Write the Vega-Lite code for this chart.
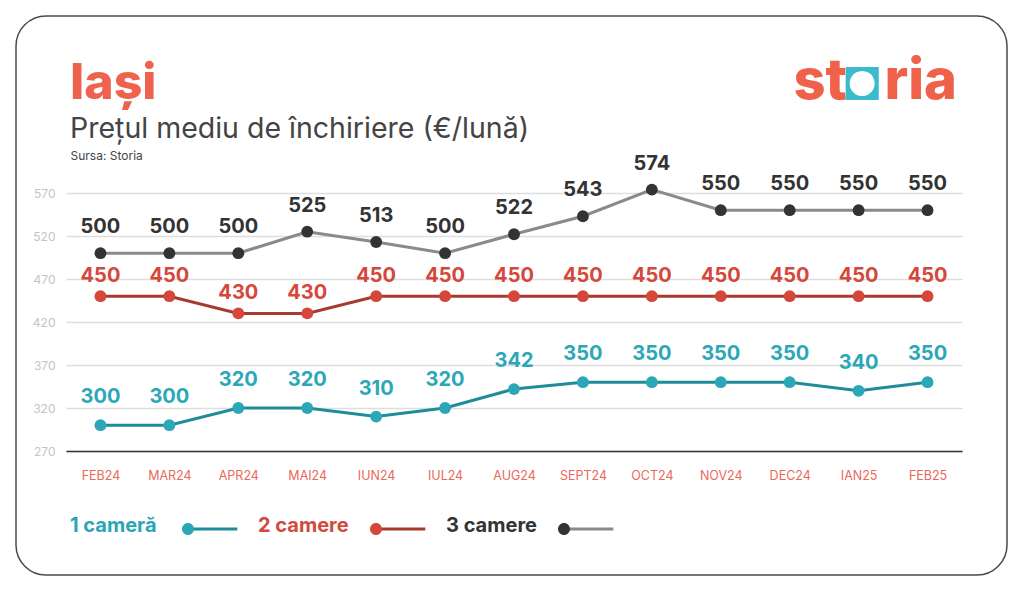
{
  "$schema": "https://vega.github.io/schema/vega-lite/v6.json",
  "width": 991,
  "height": 559,
  "autosize": {"type": "none"},
  "padding": {"left": 16, "top": 16, "right": 17, "bottom": 17},
  "background": "white",
  "config": {
    "view": {"stroke": "#4a4a4a", "strokeWidth": 1.5, "cornerRadius": 30},
    "font": "Inter"
  },
  "title": {
    "text": "Iași",
    "subtitle": "Prețul mediu de închiriere (€/lună)",
    "orient": "top",
    "anchor": "start",
    "frame": "group",
    "offset": -127,
    "dx": 54,
    "font": "Inter",
    "fontSize": 50,
    "fontWeight": 800,
    "color": "#EF624F",
    "subtitleFont": "Inter",
    "subtitleFontSize": 28.5,
    "subtitleColor": "#444444",
    "subtitlePadding": 6
  },
  "datasets": {
    "chirii": [
      {"luna": "FEB24", "tip": "1 cameră", "pret": 300},
      {"luna": "MAR24", "tip": "1 cameră", "pret": 300},
      {"luna": "APR24", "tip": "1 cameră", "pret": 320},
      {"luna": "MAI24", "tip": "1 cameră", "pret": 320},
      {"luna": "IUN24", "tip": "1 cameră", "pret": 310},
      {"luna": "IUL24", "tip": "1 cameră", "pret": 320},
      {"luna": "AUG24", "tip": "1 cameră", "pret": 342},
      {"luna": "SEPT24", "tip": "1 cameră", "pret": 350},
      {"luna": "OCT24", "tip": "1 cameră", "pret": 350},
      {"luna": "NOV24", "tip": "1 cameră", "pret": 350},
      {"luna": "DEC24", "tip": "1 cameră", "pret": 350},
      {"luna": "IAN25", "tip": "1 cameră", "pret": 340},
      {"luna": "FEB25", "tip": "1 cameră", "pret": 350},
      {"luna": "FEB24", "tip": "2 camere", "pret": 450},
      {"luna": "MAR24", "tip": "2 camere", "pret": 450},
      {"luna": "APR24", "tip": "2 camere", "pret": 430},
      {"luna": "MAI24", "tip": "2 camere", "pret": 430},
      {"luna": "IUN24", "tip": "2 camere", "pret": 450},
      {"luna": "IUL24", "tip": "2 camere", "pret": 450},
      {"luna": "AUG24", "tip": "2 camere", "pret": 450},
      {"luna": "SEPT24", "tip": "2 camere", "pret": 450},
      {"luna": "OCT24", "tip": "2 camere", "pret": 450},
      {"luna": "NOV24", "tip": "2 camere", "pret": 450},
      {"luna": "DEC24", "tip": "2 camere", "pret": 450},
      {"luna": "IAN25", "tip": "2 camere", "pret": 450},
      {"luna": "FEB25", "tip": "2 camere", "pret": 450},
      {"luna": "FEB24", "tip": "3 camere", "pret": 500},
      {"luna": "MAR24", "tip": "3 camere", "pret": 500},
      {"luna": "APR24", "tip": "3 camere", "pret": 500},
      {"luna": "MAI24", "tip": "3 camere", "pret": 525},
      {"luna": "IUN24", "tip": "3 camere", "pret": 513},
      {"luna": "IUL24", "tip": "3 camere", "pret": 500},
      {"luna": "AUG24", "tip": "3 camere", "pret": 522},
      {"luna": "SEPT24", "tip": "3 camere", "pret": 543},
      {"luna": "OCT24", "tip": "3 camere", "pret": 574},
      {"luna": "NOV24", "tip": "3 camere", "pret": 550},
      {"luna": "DEC24", "tip": "3 camere", "pret": 550},
      {"luna": "IAN25", "tip": "3 camere", "pret": 550},
      {"luna": "FEB25", "tip": "3 camere", "pret": 550}
    ]
  },
  "data": {"name": "chirii"},
  "resolve": {"axis": {"x": "independent"}},
  "layer": [
    {
      "mark": {"type": "line", "strokeWidth": 3},
      "encoding": {
        "x": {
          "field": "luna", "type": "nominal",
          "sort": ["FEB24", "MAR24", "APR24", "MAI24", "IUN24", "IUL24", "AUG24", "SEPT24", "OCT24", "NOV24", "DEC24", "IAN25", "FEB25"],
          "scale": {"type": "point", "range": [50, 946], "padding": 0.5},
          "axis": {
            "orient": "bottom", "offset": -124, "labelAngle": 0,
            "labelColor": "#E9685A", "labelFont": "Inter", "labelFontSize": 12.5, "labelPadding": 18,
            "ticks": false, "domainColor": "#333333", "domainWidth": 1.5, "grid": false,
            "title": "st", "titleFont": "Inter", "titleFontSize": 56, "titleFontWeight": 800,
            "titleColor": "#F0614A", "titleAlign": "left", "titleBaseline": "alphabetic",
            "titleAnchor": "start", "titleX": 777, "titleY": -353
          }
        },
        "y": {
          "field": "pret", "type": "quantitative",
          "scale": {"domain": [270, 570], "range": [435, 177], "nice": false, "zero": false},
          "axis": {
            "orient": "left", "offset": -50,
            "values": [270, 320, 370, 420, 470, 520, 570],
            "labelColor": "#C4C4C4", "labelFont": "Inter", "labelFontSize": 12, "labelPadding": 11,
            "ticks": false, "domain": false, "gridColor": "#DEDEDE", "gridWidth": 1.5,
            "title": "Sursa: Storia", "titleAngle": 0, "titleAlign": "left", "titleBaseline": "alphabetic",
            "titleX": 4, "titleY": 143, "titleFont": "Inter", "titleFontSize": 12, "titleFontWeight": "normal",
            "titleColor": "#444444"
          }
        },
        "stroke": {
          "field": "tip", "type": "nominal",
          "scale": {"domain": ["3 camere", "2 camere", "1 cameră"], "range": ["#8A8A8A", "#A93A30", "#1F8D99"]},
          "legend": {
            "orient": "none", "legendX": 53.5, "legendY": 500, "direction": "horizontal",
            "title": null, "padding": 0, "gridAlign": "all",
            "values": ["1 cameră", "2 camere", "3 camere"],
            "symbolType": "M-1.8,0.5M18.7,0.5H26.3",
            "symbolSize": 144, "symbolStrokeWidth": 3, "symbolOpacity": 1,
            "symbolFillColor": "transparent",
            "labelExpr": "''",
            "labelFont": "Inter", "labelFontSize": 20, "labelFontWeight": 700,
            "labelOffset": -21, "labelLimit": 200, "columnPadding": 7
          }
        }
      }
    },
    {
      "mark": {"type": "circle", "size": 140, "opacity": 1},
      "encoding": {
        "x": {
          "field": "luna", "type": "nominal",
          "sort": ["FEB24", "MAR24", "APR24", "MAI24", "IUN24", "IUL24", "AUG24", "SEPT24", "OCT24", "NOV24", "DEC24", "IAN25", "FEB25"],
          "axis": {
            "orient": "top", "labels": false, "ticks": false, "domain": false, "grid": false,
            "title": "◘", "titleFont": "Liberation Sans", "titleFontSize": 59, "titleFontWeight": "normal",
            "titleColor": "#3BBBCD", "titleAlign": "left", "titleBaseline": "alphabetic",
            "titleAnchor": "start", "titleX": 828, "titleY": 83
          }
        },
        "y": {"field": "pret", "type": "quantitative"},
        "fill": {
          "field": "tip", "type": "nominal",
          "scale": {"domain": ["1 cameră", "2 camere", "3 camere"], "range": ["#2BA7B8", "#D6473B", "#333333"]},
          "legend": {
            "orient": "none", "legendX": 55, "legendY": 500, "direction": "horizontal",
            "title": null, "padding": 0,
            "symbolType": "M-1.8,0.5M16.83,0.5A1,1,0,1,1,18.83,0.5A1,1,0,1,1,16.83,0.5ZM26.3,0.5",
            "symbolSize": 144, "symbolStrokeWidth": 0, "symbolOpacity": 1,
            "labelFont": "Inter", "labelFontSize": 20, "labelFontWeight": 700,
            "labelOffset": -21, "labelLimit": 200, "columnPadding": 19,
            "labelColor": {"expr": "datum.value == '1 cameră' ? '#2AA5B6' : datum.value == '2 camere' ? '#D24A3D' : '#333333'"}
          }
        }
      }
    },
    {
      "transform": [{"filter": "datum.tip === '1 cameră'"}],
      "mark": {"type": "text", "dy": -22, "fontSize": 20, "fontWeight": 700, "baseline": "alphabetic", "font": "Inter"},
      "encoding": {
        "x": {
          "field": "luna", "type": "nominal",
          "sort": ["FEB24", "MAR24", "APR24", "MAI24", "IUN24", "IUL24", "AUG24", "SEPT24", "OCT24", "NOV24", "DEC24", "IAN25", "FEB25"],
          "axis": {
            "orient": "top", "labels": false, "ticks": false, "domain": false, "grid": false,
            "title": "ria", "titleFont": "Inter", "titleFontSize": 56, "titleFontWeight": 800,
            "titleColor": "#F0614A", "titleAlign": "left", "titleBaseline": "alphabetic",
            "titleAnchor": "start", "titleX": 868, "titleY": 82
          }
        },
        "y": {"field": "pret", "type": "quantitative"},
        "text": {"field": "pret", "type": "quantitative"},
        "fill": {"field": "tip", "type": "nominal"}
      }
    },
    {
      "transform": [{"filter": "datum.tip === '2 camere'"}],
      "mark": {"type": "text", "dy": -14, "fontSize": 20, "fontWeight": 700, "baseline": "alphabetic", "font": "Inter"},
      "encoding": {
        "x": {"field": "luna", "type": "nominal", "sort": ["FEB24", "MAR24", "APR24", "MAI24", "IUN24", "IUL24", "AUG24", "SEPT24", "OCT24", "NOV24", "DEC24", "IAN25", "FEB25"], "axis": null},
        "y": {"field": "pret", "type": "quantitative"},
        "text": {"field": "pret", "type": "quantitative"},
        "fill": {"field": "tip", "type": "nominal"}
      }
    },
    {
      "transform": [{"filter": "datum.tip === '3 camere'"}],
      "mark": {"type": "text", "dy": -20, "fontSize": 20, "fontWeight": 700, "baseline": "alphabetic", "font": "Inter"},
      "encoding": {
        "x": {"field": "luna", "type": "nominal", "sort": ["FEB24", "MAR24", "APR24", "MAI24", "IUN24", "IUL24", "AUG24", "SEPT24", "OCT24", "NOV24", "DEC24", "IAN25", "FEB25"], "axis": null},
        "y": {"field": "pret", "type": "quantitative"},
        "text": {"field": "pret", "type": "quantitative"},
        "fill": {"field": "tip", "type": "nominal"}
      }
    }
  ]
}
